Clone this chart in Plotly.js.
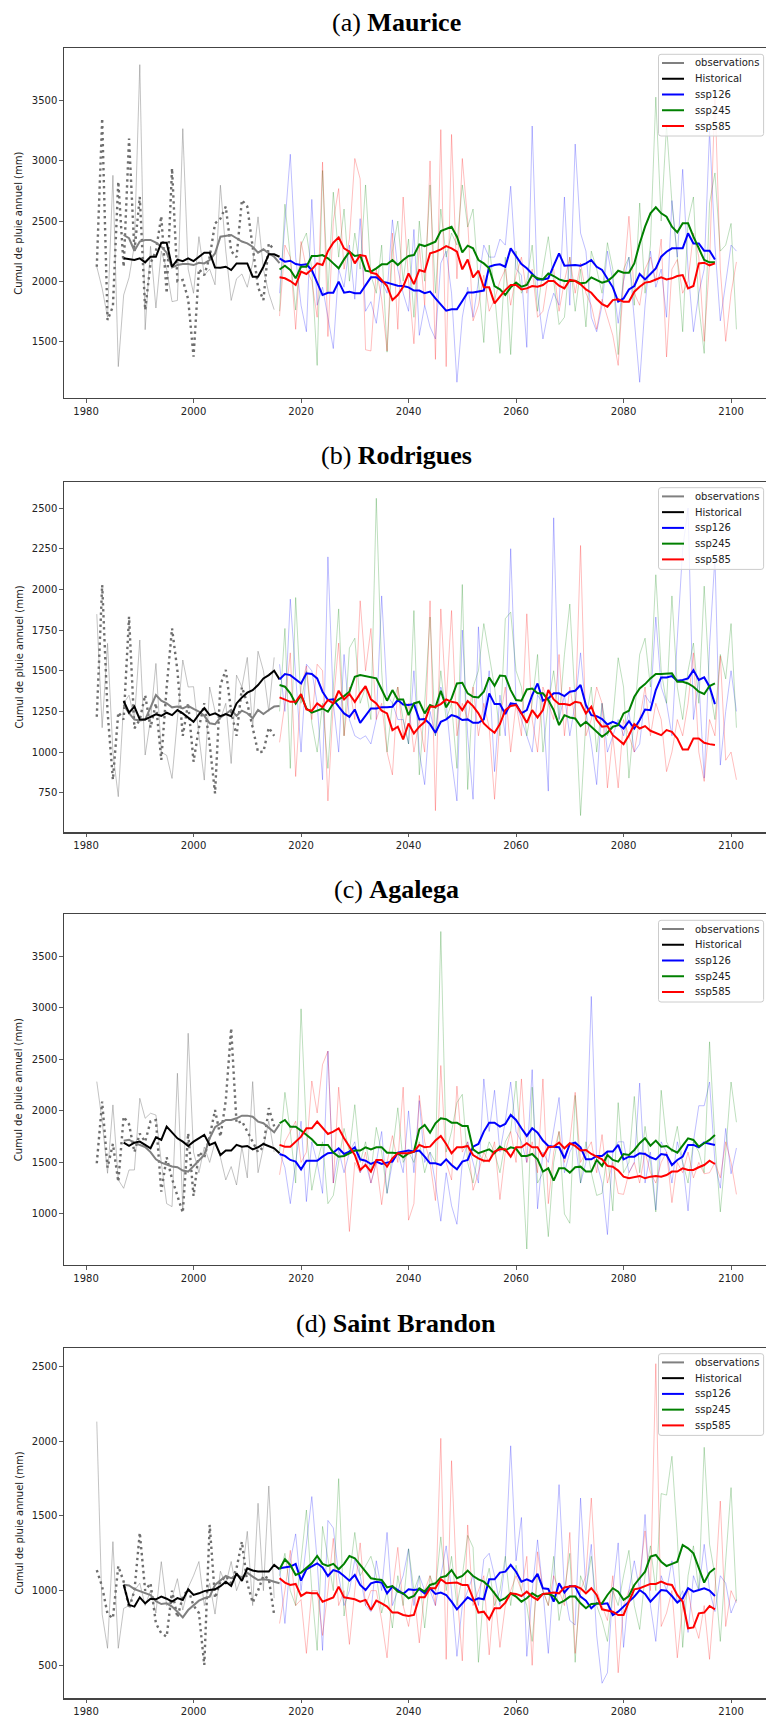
<!DOCTYPE html>
<html><head><meta charset="utf-8">
<script src="https://cdn.plot.ly/plotly-3.0.1.min.js"></script>
<style>html,body{margin:0;padding:0;background:#fff}#chart{width:766px;height:1716px}</style>
</head><body><div id="chart"></div>
<script>
// ---------------- (a) Maurice ----------------
const maurice_obs_yearly = [2120,3353,1677,1790,2827,2120,3185,2250,2700,1760,2150,2250,2540,1900,2938,2000,2010,1850,1373,2100,2050,2200,2480,2520,2620,2250,2200,2675,2620,2300,1950,1843,2314,2260];
const maurice_hist_yearly = [2120,1940,1700,2880,1290,1885,2030,2300,3800,1597,2290,1777,2250,2100,1830,1840,3268,2100,1900,2370,2050,2100,1970,2798,2250,1840,2020,2060,1950,2150,2535,2100,1900,1763];
const maurice_obs_mean = [2384,2357,2253,2330,2343,2343,2320,2287,2237,2114,2134,2142,2142,2134,2153,2148,2176,2231,2370,2376,2384,2357,2330,2315,2287,2237,2265,2231,2203,2150];
const maurice_hist_mean = [2190,2182,2176,2190,2157,2203,2203,2320,2320,2120,2180,2167,2190,2167,2203,2237,2237,2114,2111,2120,2093,2148,2148,2148,2037,2037,2120,2223,2223,2203];
const maurice_ssp126_yearly = [1900,2450,3055,2200,1800,1580,2680,1800,1950,1700,1440,2100,1950,2300,1850,2520,1750,1830,1650,2000,1900,2510,2100,1900,1750,2430,1550,1800,1620,1520,2150,2250,1900,1160,1700,1950,1700,2000,2300,2200,2200,2350,2300,2790,2100,2050,1450,3290,1900,1520,1750,1900,1800,2700,1800,3140,2400,2250,1700,1580,1800,2250,2000,1650,2000,2200,1700,1160,1800,2250,1950,2100,1700,2670,2200,2930,2100,1580,1900,2100,3250,2300,1670,2000,2300,2250];
const maurice_ssp245_yearly = [1750,2640,2200,1760,2300,2400,2100,1300,2920,1900,2740,2200,2600,2000,2400,2100,2800,2050,1900,2300,1410,2250,2500,2000,2350,1700,2500,2000,2800,1900,2600,2200,2400,2300,2800,2450,2600,2000,1490,2300,1900,1400,2200,1390,2250,1900,2000,2300,1750,2100,2370,2000,1640,1700,2200,1750,2100,1620,2250,2100,1900,2320,2100,1390,2100,2200,1800,2650,1900,2300,3530,2500,3300,2650,2200,1580,2500,2700,1800,1400,2650,2900,2250,2300,2480,1600];
const maurice_ssp585_yearly = [1710,2300,2200,1600,2330,2100,2000,1700,2990,1540,2500,2770,2100,2350,3020,2850,1430,1420,2100,1850,1420,2400,1600,2700,2000,1480,2300,1800,3000,1350,3260,1290,3220,2020,3020,2500,1670,1800,2050,1750,1850,2000,2100,1800,2050,2200,1900,2100,1700,1750,2050,2100,1750,2000,2200,1900,2150,1900,1800,1600,1850,1700,1550,1300,2000,2540,1900,1800,2100,2200,2000,2350,1370,2100,2180,1900,2000,2400,2200,1500,2150,3560,2100,1500,1900,2160];
const maurice_ssp126_mean = [2190,2162,2170,2143,2134,2140,2093,1996,1885,1904,1904,1996,1904,1913,1900,1900,1968,2032,2032,1996,1988,1974,1963,1960,1949,1922,1922,1900,1913,1857,1808,1755,1766,1766,1835,1907,1907,1913,1922,2120,2134,2140,2120,2273,2204,2143,2107,2060,2015,2015,2024,2129,2231,2129,2134,2134,2129,2148,2176,2120,2093,2015,1949,1830,1857,1931,1960,2060,2015,2060,2107,2204,2245,2273,2273,2273,2398,2314,2314,2253,2253,2181];
const maurice_ssp245_mean = [2097,2129,2093,2024,2120,2120,2209,2209,2217,2190,2148,2107,2181,2245,2209,2217,2087,2079,2107,2140,2140,2176,2134,2176,2209,2217,2306,2292,2309,2328,2417,2434,2453,2370,2240,2295,2273,2176,2148,2107,1960,1932,1885,1949,1988,1954,1968,2051,2024,2015,2065,2043,2015,2001,2001,2004,1982,1988,2032,2010,1988,2001,2037,2087,2071,2071,2148,2314,2453,2564,2614,2564,2536,2453,2406,2481,2481,2370,2273,2176,2157,2157];
const maurice_ssp585_mean = [2032,2024,2001,1968,2079,2060,2098,2148,2134,2250,2320,2364,2273,2245,2148,2217,2209,2071,2060,2010,1960,1843,1885,1954,2065,1976,2093,2079,2231,2245,2264,2292,2273,2245,2098,2181,2032,2087,1949,1949,1816,1871,1926,1968,1968,1932,1940,1960,1954,1968,2001,2001,1963,1940,2010,2001,1974,1932,1904,1852,1810,1788,1843,1849,1830,1830,1913,1954,1988,1996,2015,2032,2015,2024,2043,2051,1940,1960,2148,2154,2132,2148];

// ---------------- (b) Rodrigues ----------------
const rodrigues_obs_yearly = [1217,2027,1250,830,1244,1200,1832,1146,1200,1350,1150,1300,952,1400,1761,1500,1100,1300,941,1150,1300,1050,746,1413,1505,1250,1100,1400,1300,1150,1000,1002,1150,1100];
const rodrigues_hist_yearly = [1848,1150,1668,1000,726,1300,1350,1200,1689,982,1200,1545,1000,980,838,1200,1566,1400,1402,1100,828,1400,1250,1200,1300,930,1473,1400,1582,1150,1620,1500,1250,1582];
const rodrigues_obs_mean = [1290,1240,1200,1195,1200,1275,1351,1316,1300,1275,1280,1269,1284,1265,1249,1223,1177,1171,1214,1234,1259,1223,1255,1239,1208,1259,1234,1259,1280,1284];
const rodrigues_hist_mean = [1314,1242,1279,1201,1201,1217,1232,1223,1242,1227,1258,1238,1211,1186,1232,1270,1227,1238,1221,1234,1221,1299,1336,1365,1381,1412,1453,1473,1500,1447];
const rodrigues_ssp126_yearly = [1540,1250,1940,1500,1000,1540,1500,1300,830,2200,1300,1000,1600,1200,1100,1080,1100,1050,1200,1960,1350,1300,1200,1200,1050,1500,1000,800,1250,1100,1400,1300,950,700,1750,1100,710,1770,1200,1500,880,1350,1100,2250,1300,1200,1100,1000,1350,1300,760,2440,1200,1350,1100,1300,1610,1250,1050,800,1300,1000,1100,1200,1100,1250,1000,1050,1350,1300,1830,1400,1300,1100,1700,2250,2500,1200,1450,840,1650,2200,920,1250,1500,1250];
const rodrigues_ssp245_yearly = [1250,1760,900,1950,1300,1500,1180,1000,1300,900,1400,1880,1100,1640,1700,1300,1400,1200,2560,1500,1000,1300,1400,1200,1050,1870,860,1300,1830,1100,1500,1200,1300,900,2030,770,1400,1500,1790,1600,1400,1100,1820,1860,1500,1400,1100,1300,1600,1000,1300,1500,1200,1600,1910,1300,610,1200,1400,1000,1300,1100,1200,1580,1400,840,1200,1600,1700,1400,2090,1500,1300,1960,1400,1200,1500,1670,1300,2020,1400,1200,1600,1450,1790,1150];
const rodrigues_ssp585_yearly = [1060,1300,1610,850,1400,1530,1200,1540,1500,700,1300,1670,1100,1400,1200,1930,1500,1760,1200,1300,1000,860,1400,1100,1300,1000,1200,1000,1930,640,1880,1300,1870,1100,1300,1200,1400,1100,1300,1150,710,1200,1400,1000,1300,1100,1850,1200,1000,1400,1300,1200,1600,1100,1400,1200,2270,1100,1200,1400,1300,780,1100,780,1200,1100,1000,1200,1400,1100,1300,1200,880,1000,1200,1100,1300,1610,1000,820,1200,1100,1590,950,1000,830];
const rodrigues_ssp126_mean = [1447,1480,1473,1447,1422,1484,1480,1453,1371,1320,1324,1279,1238,1217,1262,1180,1227,1268,1268,1275,1275,1279,1320,1293,1289,1295,1201,1203,1172,1119,1186,1201,1227,1217,1197,1201,1180,1180,1201,1361,1295,1295,1234,1299,1295,1238,1258,1350,1422,1316,1330,1361,1361,1344,1371,1377,1412,1289,1227,1221,1203,1170,1186,1172,1145,1190,1145,1197,1262,1258,1381,1459,1459,1467,1439,1443,1453,1504,1443,1459,1402,1295];
const rodrigues_ssp245_mean = [1412,1402,1361,1299,1350,1268,1242,1254,1268,1248,1299,1324,1344,1371,1463,1473,1467,1459,1453,1385,1316,1381,1324,1324,1227,1299,1309,1238,1289,1275,1377,1275,1330,1422,1426,1361,1340,1336,1371,1459,1408,1471,1467,1381,1320,1316,1385,1391,1361,1361,1320,1258,1166,1227,1213,1207,1160,1186,1156,1125,1094,1119,1156,1166,1238,1254,1340,1391,1418,1453,1480,1480,1480,1484,1432,1432,1422,1402,1371,1357,1406,1422];
const rodrigues_ssp585_mean = [1336,1320,1309,1309,1357,1262,1254,1299,1275,1320,1299,1377,1324,1357,1309,1361,1406,1324,1299,1254,1238,1135,1156,1078,1176,1115,1156,1186,1279,1279,1295,1324,1309,1303,1258,1314,1283,1238,1176,1145,1119,1172,1258,1283,1289,1238,1180,1258,1213,1258,1381,1324,1295,1295,1289,1309,1303,1238,1279,1197,1156,1160,1104,1078,1049,1104,1172,1145,1160,1131,1119,1104,1135,1125,1084,1016,1016,1084,1084,1057,1049,1043];

// ---------------- (c) Agalega ----------------
const agalega_obs_yearly = [1492,2090,1450,1680,1313,1944,1870,1600,1780,1700,1900,1912,1217,1550,1340,1168,1013,1783,1175,1600,1550,1750,2009,1750,2100,2802,1880,1900,1800,1700,1600,1650,2026,1850];
const agalega_hist_yearly = [2284,1900,1395,2058,1330,1249,1427,1427,2122,1928,1977,1960,1500,1100,1071,2365,1050,2753,1600,1400,1650,1500,1700,1550,1330,1460,1281,1650,1350,2284,1400,1650,1900,1600];
const agalega_obs_mean = [1710,1720,1690,1670,1650,1600,1531,1498,1476,1460,1454,1421,1411,1460,1518,1573,1735,1841,1874,1912,1912,1928,1954,1954,1944,1896,1880,1841,1793,1870];
const agalega_hist_mean = [1692,1660,1692,1702,1670,1637,1744,1718,1847,1789,1734,1702,1660,1702,1734,1767,1670,1692,1572,1615,1615,1670,1653,1660,1627,1647,1679,1660,1637,1589];
const agalega_ssp126_yearly = [1600,1450,1100,1500,1900,1120,1700,1500,1200,2580,1300,1620,1400,1600,1700,1400,1500,1300,1500,1800,1200,1500,1600,1400,2000,1400,2100,1500,1600,1300,930,1400,1080,900,1500,1700,1500,1300,2310,1800,2200,1600,1900,2280,1800,1700,1500,2400,1050,1600,1500,1800,2130,1400,1600,1700,1300,1500,3110,1500,1300,800,1600,1700,1700,1400,1500,2270,1300,1600,1040,1700,1600,1300,1700,1500,1030,1700,2050,2050,2280,1500,1250,1830,1390,1640];
const agalega_ssp245_yearly = [1600,2180,1800,1300,2990,1800,1230,1500,1700,1100,1180,1500,1830,1600,2060,1500,1700,1400,1840,1600,1200,1600,2030,1500,1600,1500,1700,1400,1600,1500,3740,1600,1800,2080,2160,1500,1300,1600,1500,1700,1600,1400,1700,1800,2290,1600,660,2230,1300,1400,780,1500,1800,1000,910,2150,1300,1700,1400,1180,1200,1600,1030,2080,1400,1500,2140,1400,1850,1500,1020,2200,1700,1600,1850,1500,1300,1700,1600,1400,2670,1700,1020,1600,2280,1890];
const agalega_ssp585_yearly = [1380,1700,1800,1900,1500,1600,2290,1980,2450,2580,1300,2230,1600,830,1500,1400,1600,1300,1500,1090,1500,1760,1500,2230,940,1100,2150,1700,1500,1130,2440,1500,1330,2240,1600,1700,1230,1400,1600,1500,1700,1140,1600,1800,1500,2310,1500,1700,1400,2310,1100,1600,1800,1500,1700,2180,1500,1600,1700,1400,1770,1300,1500,1200,1190,1400,1500,1300,1600,1400,1300,1500,1600,1110,1500,1400,1600,1350,1500,1390,1400,1500,1350,1700,1500,1190];
const agalega_ssp126_mean = [1582,1563,1524,1508,1433,1517,1517,1517,1556,1589,1595,1637,1582,1605,1647,1530,1517,1485,1508,1485,1498,1508,1595,1605,1615,1605,1615,1556,1491,1491,1475,1530,1475,1433,1508,1524,1653,1679,1799,1886,1886,1847,1873,1961,1912,1831,1757,1831,1789,1712,1660,1653,1647,1540,1679,1692,1647,1530,1530,1563,1563,1605,1605,1670,1530,1556,1556,1589,1582,1550,1530,1582,1572,1475,1524,1556,1670,1670,1647,1692,1679,1670];
const agalega_ssp245_mean = [1880,1912,1847,1847,1809,1767,1724,1670,1670,1670,1595,1556,1563,1589,1615,1615,1647,1627,1647,1647,1595,1595,1589,1550,1589,1605,1822,1864,1789,1880,1928,1919,1886,1886,1854,1854,1627,1589,1605,1627,1589,1653,1615,1647,1634,1563,1563,1582,1530,1411,1443,1323,1443,1443,1401,1453,1459,1411,1411,1524,1466,1572,1524,1508,1582,1572,1621,1686,1734,1663,1712,1653,1660,1621,1595,1660,1734,1718,1653,1686,1718,1767];
const agalega_ssp585_mean = [1670,1653,1653,1702,1750,1831,1831,1896,1831,1776,1799,1831,1734,1653,1572,1427,1475,1411,1524,1524,1459,1540,1589,1589,1589,1605,1670,1647,1653,1712,1757,1679,1589,1647,1647,1660,1572,1540,1517,1517,1605,1627,1627,1556,1647,1647,1686,1647,1647,1556,1647,1653,1692,1637,1686,1660,1615,1621,1582,1556,1530,1466,1459,1421,1362,1346,1356,1369,1346,1362,1369,1362,1378,1411,1411,1443,1427,1427,1453,1475,1517,1485];

// ---------------- (d) Saint Brandon ----------------
const brandon_obs_yearly = [1138,1026,843,815,1165,1060,880,1000,1388,1000,1050,781,714,692,1000,820,960,1009,900,850,502,1440,950,1060,1098,1050,1150,1328,1050,920,1000,1100,1080,837];
const brandon_hist_yearly = [2132,842,614,1328,614,881,900,1000,1050,900,1000,850,1194,900,950,1080,870,1020,1100,1195,900,1050,843,1130,1040,1195,1000,1100,1397,900,1585,1000,1701,950];
const brandon_obs_mean = [1040,1035,1010,995,985,970,930,910,915,893,859,821,870,904,933,949,960,1038,1071,1098,1083,1105,1089,1120,1094,1071,1076,1071,1060,1049];
const brandon_hist_mean = [1040,905,893,955,915,945,942,960,946,926,950,937,1009,971,982,997,1004,1009,1030,1060,1031,1116,1065,1150,1135,1128,1128,1128,1172,1143];
const brandon_ssp126_yearly = [1150,780,1200,1380,1000,1300,1630,1200,600,1470,1420,1100,900,1000,1210,1100,900,860,1200,1000,1390,900,1000,1100,1280,900,1100,1000,1000,900,1100,1300,1000,560,900,1000,1100,900,1210,1250,1100,900,1200,1970,1200,1490,560,1000,1340,1000,580,1100,1710,1000,800,770,1620,1000,1310,700,380,450,1000,1320,620,1000,1200,1000,1510,900,660,1100,1000,1200,920,1000,720,1100,1000,1310,1000,860,1100,1050,850,940];
const brandon_ssp245_yearly = [1100,1250,1000,900,1200,1540,1000,600,1430,1200,1000,1750,830,1100,1390,1100,1170,1230,1100,850,1000,750,1100,900,1280,1000,1100,750,1100,1000,1360,1000,1230,900,1100,1370,1290,520,1000,1150,900,1000,1230,900,1170,1000,900,660,1100,1000,900,1230,800,1000,1250,520,1100,1000,1230,900,800,660,1000,900,1100,1270,900,740,1100,1300,1000,1650,1640,1900,1360,620,1100,1300,1000,1960,1310,1100,660,1200,1690,930];
const brandon_ssp585_yearly = [780,1000,1270,900,940,580,1000,1000,700,1000,1350,900,1000,640,1000,1320,900,1000,1000,800,550,1000,1290,900,760,1000,650,1000,1100,900,2020,540,1870,1000,530,1440,900,1000,1100,570,1000,620,900,1000,1100,1000,1230,500,1260,1000,900,1100,1000,900,1390,580,1000,1100,1620,1000,900,800,1100,450,900,1000,1030,1100,1400,1000,2520,760,850,1000,550,900,1000,800,680,900,540,1000,1600,760,1000,920];
const brandon_ssp126_mean = [1150,1156,1161,1179,1067,1143,1165,1183,1156,1098,1138,1127,1098,1067,1105,1038,1004,1049,1060,1054,982,1027,1004,978,1009,1004,1009,982,1016,978,987,971,926,875,915,955,933,949,942,1076,1076,1121,1127,1172,1127,1060,1076,1060,1112,1016,1011,926,1049,987,1031,1027,960,933,882,915,911,915,837,859,893,926,960,1004,978,926,964,1004,1000,964,920,949,1016,993,1004,1016,1000,964];
const brandon_ssp245_mean = [1143,1210,1172,1105,1121,1150,1183,1232,1179,1165,1179,1143,1179,1232,1217,1172,1127,1083,1076,1071,1022,1031,993,982,949,964,1016,993,1038,1049,1089,1098,1138,1083,1098,1134,1098,1076,1060,1027,982,933,949,982,960,926,949,982,960,978,978,964,915,933,960,960,915,882,911,915,915,971,1016,993,938,964,1038,1083,1127,1228,1239,1194,1165,1179,1194,1306,1283,1250,1150,1054,1121,1150];
const brandon_ssp585_mean = [1083,1054,1038,1045,964,987,982,982,926,942,955,1027,955,949,942,926,938,871,933,915,893,853,853,837,830,837,955,955,1016,1016,1076,1049,1054,1054,1038,1038,949,853,859,808,882,882,920,982,978,964,993,960,938,978,982,987,982,1022,1027,1031,1016,982,1016,971,875,866,859,837,837,926,1009,1016,1031,1045,1045,1060,1045,1038,971,926,748,754,848,853,897,875];

// ---------------- axis ticks / titles / legend ----------------
const xTickYears = [1980,2000,2020,2040,2060,2080,2100];
const yTicksMaurice = [1500,2000,2500,3000,3500];
const yTicksRodrigues = [750,1000,1250,1500,1750,2000,2250,2500];
const yTicksAgalega = [1000,1500,2000,2500,3000,3500];
const yTicksBrandon = [500,1000,1500,2000,2500];
const panelTitles = ['(a) <b>Maurice</b>','(b) <b>Rodrigues</b>','(c) <b>Agalega</b>','(d) <b>Saint Brandon</b>'];
const yTitle = 'Cumul de pluie annuel (mm)';
const legendNames = ['observations','Historical','ssp126','ssp245','ssp585'];
const legendColors = ['#808080','#000000','#0000ff','#008000','#ff0000'];

// ---------------- build ----------------
function yearsFrom(start, n){ const a=[]; for(let i=0;i<n;i++) a.push(start+i); return a; }

const W=766, H=1716, ML=64, PW=W-ML;
const px2x = px => (px-ML)/PW;
const py2y = py => 1-py/H;

const panels = [
  {obsY:maurice_obs_yearly, histY:maurice_hist_yearly, obsM:maurice_obs_mean, histM:maurice_hist_mean,
   sY:[maurice_ssp126_yearly,maurice_ssp245_yearly,maurice_ssp585_yearly],
   sM:[maurice_ssp126_mean,maurice_ssp245_mean,maurice_ssp585_mean],
   ticks:yTicksMaurice, pTop:48.3, pBottom:398, range:[1029,3936], titleY:23},
  {obsY:rodrigues_obs_yearly, histY:rodrigues_hist_yearly, obsM:rodrigues_obs_mean, histM:rodrigues_hist_mean,
   sY:[rodrigues_ssp126_yearly,rodrigues_ssp245_yearly,rodrigues_ssp585_yearly],
   sM:[rodrigues_ssp126_mean,rodrigues_ssp245_mean,rodrigues_ssp585_mean],
   ticks:yTicksRodrigues, pTop:481.7, pBottom:832.3, range:[507,2662], titleY:455},
  {obsY:agalega_obs_yearly, histY:agalega_hist_yearly, obsM:agalega_obs_mean, histM:agalega_hist_mean,
   sY:[agalega_ssp126_yearly,agalega_ssp245_yearly,agalega_ssp585_yearly],
   sM:[agalega_ssp126_mean,agalega_ssp245_mean,agalega_ssp585_mean],
   ticks:yTicksAgalega, pTop:914.3, pBottom:1265, range:[505,3907], titleY:889},
  {obsY:brandon_obs_yearly, histY:brandon_hist_yearly, obsM:brandon_obs_mean, histM:brandon_hist_mean,
   sY:[brandon_ssp126_yearly,brandon_ssp245_yearly,brandon_ssp585_yearly],
   sM:[brandon_ssp126_mean,brandon_ssp245_mean,brandon_ssp585_mean],
   ticks:yTicksBrandon, pTop:1347.7, pBottom:1698.3, range:[279,2627], titleY:1323}
];

const sspThin = ['rgba(0,0,255,0.32)','rgba(0,128,0,0.32)','rgba(255,0,0,0.32)'];
const sspCol = ['#0000ff','#008000','#ff0000'];

const traces = [];
const layout = {
  width:W, height:H, margin:{l:ML,r:0,t:0,b:0},
  paper_bgcolor:'#ffffff', plot_bgcolor:'#ffffff',
  font:{family:'DejaVu Sans, sans-serif', size:10, color:'#222'},
  showlegend:false, annotations:[], shapes:[]
};

function roundRect(x0,y0,x1,y1,r){
  const X=px2x, Y=py2y;
  return 'M'+X(x0+r)+','+Y(y0)+' L'+X(x1-r)+','+Y(y0)+' Q'+X(x1)+','+Y(y0)+' '+X(x1)+','+Y(y0+r)+
    ' L'+X(x1)+','+Y(y1-r)+' Q'+X(x1)+','+Y(y1)+' '+X(x1-r)+','+Y(y1)+
    ' L'+X(x0+r)+','+Y(y1)+' Q'+X(x0)+','+Y(y1)+' '+X(x0)+','+Y(y1-r)+
    ' L'+X(x0)+','+Y(y0+r)+' Q'+X(x0)+','+Y(y0)+' '+X(x0+r)+','+Y(y0)+' Z';
}

panels.forEach((p,i)=>{
  const s = i===0 ? '' : String(i+1);
  const xa = 'x'+s, ya = 'y'+s;
  const base = {type:'scatter', mode:'lines', xaxis:xa, yaxis:ya, hoverinfo:'skip', showlegend:false};
  p.sY.forEach((arr,k)=>{
    traces.push(Object.assign({}, base, {x:yearsFrom(2016,arr.length), y:arr, name:legendNames[k+2]+' (annuel)',
      line:{color:sspThin[k], width:0.8}}));
  });
  traces.push(Object.assign({}, base, {x:yearsFrom(1982,p.histY.length), y:p.histY, name:'Historical (annuel)',
    line:{color:'rgba(128,128,128,0.6)', width:0.8}}));
  traces.push(Object.assign({}, base, {x:yearsFrom(1982,p.obsY.length), y:p.obsY, name:'observations (annuel)',
    line:{color:'#6e6e6e', width:2.4, dash:'2.4px,3.6px'}}));
  traces.push(Object.assign({}, base, {x:yearsFrom(1987,p.obsM.length), y:p.obsM, name:legendNames[0],
    line:{color:legendColors[0], width:2}}));
  traces.push(Object.assign({}, base, {x:yearsFrom(1987,p.histM.length), y:p.histM, name:legendNames[1],
    line:{color:legendColors[1], width:2}}));
  p.sM.forEach((arr,k)=>{
    traces.push(Object.assign({}, base, {x:yearsFrom(2016,arr.length), y:arr, name:legendNames[k+2],
      line:{color:sspCol[k], width:2}}));
  });

  const axCommon = {showline:true, mirror:true, linecolor:'#444', linewidth:1.2, ticks:'outside', ticklen:3.5,
    tickwidth:0.8, tickcolor:'#333', showgrid:false, zeroline:false, tickfont:{size:10, color:'#222'}};
  layout['xaxis'+s] = Object.assign({}, axCommon, {domain:[0,1], anchor:ya, range:[1975.9,2106.5],
    tickmode:'array', tickvals:xTickYears});
  layout['yaxis'+s] = Object.assign({}, axCommon, {domain:[py2y(p.pBottom), py2y(p.pTop)], anchor:xa, range:p.range,
    tickmode:'array', tickvals:p.ticks});

  // y-axis title
  layout.annotations.push({xref:'paper', yref:'paper', x:px2x(18.6), y:py2y((p.pTop+p.pBottom)/2),
    xanchor:'center', yanchor:'middle', textangle:-90, showarrow:false, text:yTitle,
    font:{family:'DejaVu Sans, sans-serif', size:10, color:'#222'}});

  // legend (drawn above the data)
  layout.shapes.push({type:'path', xref:'paper', yref:'paper', layer:'above',
    path:roundRect(658.5, p.pTop+6, 763.6, p.pTop+87.7, 2.5),
    fillcolor:'rgba(255,255,255,0.8)', line:{color:'#cccccc', width:1}});
  legendNames.forEach((nm,k)=>{
    const cy = p.pTop + 14.7 + 15.75*k;
    layout.shapes.push({type:'line', xref:'paper', yref:'paper', layer:'above',
      x0:px2x(662), x1:px2x(684), y0:py2y(cy), y1:py2y(cy), line:{color:legendColors[k], width:2}});
    layout.annotations.push({xref:'paper', yref:'paper', x:px2x(692.5), y:py2y(cy), xanchor:'left', yanchor:'middle',
      showarrow:false, text:nm, font:{size:10, color:'#222'}});
  });

  layout.annotations.push({xref:'paper', yref:'paper', x:px2x(396), y:py2y(p.titleY), xanchor:'center', yanchor:'middle',
    showarrow:false, text:panelTitles[i], font:{family:'Liberation Serif, Times New Roman, serif', size:26, color:'#000'}});
});

Plotly.newPlot('chart', traces, layout, {staticPlot:true, displayModeBar:false});
</script>
</body></html>
